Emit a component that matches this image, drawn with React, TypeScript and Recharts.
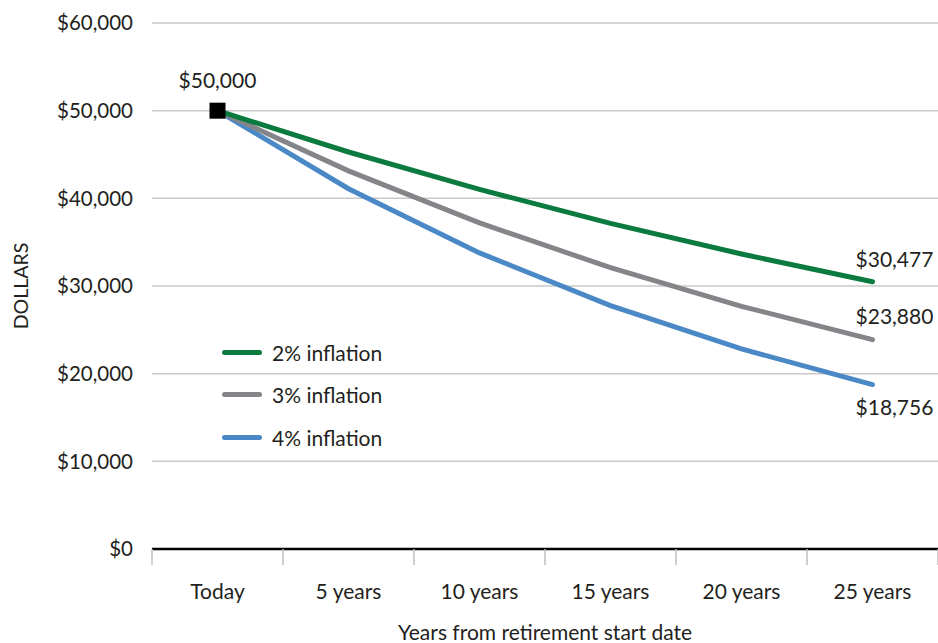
import React from 'react';
import { LineChart, Line, XAxis, YAxis, CartesianGrid, Legend, LabelList, ReferenceLine } from 'recharts';

const categories = ['Today', '5 years', '10 years', '15 years', '20 years', '25 years'];
const inflation2 = [50000, 45287, 41017, 37151, 33649, 30477];
const inflation3 = [50000, 43130, 37205, 32093, 27684, 23880];
const inflation4 = [50000, 41096, 33778, 27763, 22819, 18756];
const yTicks = [0, 10000, 20000, 30000, 40000, 50000, 60000];

const FONT = 'Lato, "Noto Sans", sans-serif';
const TEXT = '#231f20';
const FS = 21;

const series = [
    { key: 'i2', name: '2% inflation', color: '#0b7a3f', values: inflation2 },
    { key: 'i3', name: '3% inflation', color: '#848589', values: inflation3 },
    { key: 'i4', name: '4% inflation', color: '#4b88c6', values: inflation4 },
];

const chartData = categories.map((cat, i) => ({
    cat,
    i2: inflation2[i],
    i3: inflation3[i],
    i4: inflation4[i],
}));

const fmt = (v: number) => `$${v.toLocaleString('en-US')}`;
const lastIndex = categories.length - 1;

// end-of-line value label, shifted per series
const endLabel = (dy: number) => (props: any) => {
    const { x, y, value, index } = props;
    if (index !== lastIndex) return null;
    return (
        <text x={x + 22} y={y + dy} textAnchor="middle" fontSize={FS} fill={TEXT} fontFamily={FONT}>
            {fmt(value)}
        </text>
    );
};

const startLabel = (props: any) => {
    const { x, y, value, index } = props;
    if (index !== 0) return null;
    return (
        <text x={x} y={y - 23} textAnchor="middle" fontSize={FS} fill={TEXT} fontFamily={FONT}>
            {fmt(value)}
        </text>
    );
};

const squareDot = (props: any) => {
    const { cx, cy, index } = props;
    if (index !== 0) return <g key={`d${index}`} />;
    return <rect key="start" x={cx - 8} y={cy - 8} width={16} height={16} fill="#000" />;
};

// category label plus the small separator marks at band edges
const CategoryTick = (props: any) => {
    const { x, y, payload, index } = props;
    const half = payload.offset || 0;
    return (
        <g>
            <line x1={x - half} x2={x - half} y1={y} y2={y + 16} stroke="#c0c0c0" strokeWidth={1.5} />
            {index === lastIndex && (
                <line x1={x + half} x2={x + half} y1={y} y2={y + 16} stroke="#c0c0c0" strokeWidth={1.5} />
            )}
            <text x={x} y={y + 50} textAnchor="middle" fontSize={FS} fill={TEXT} fontFamily={FONT}>
                {payload.value}
            </text>
        </g>
    );
};

const LegendBox = () => (
    <div style={{ fontFamily: FONT, fontSize: FS, color: TEXT }}>
        {series.map((s) => (
            <div key={s.key} style={{ display: 'flex', alignItems: 'center', height: 42.5 }}>
                <span style={{ width: 40, height: 5, borderRadius: 3, background: s.color, marginRight: 10 }}></span>
                <span>{s.name}</span>
            </div>
        ))}
    </div>
);

const App: React.FC = () => {
    return (
        <div style={{ position: 'absolute', left: 0, top: 0, width: 938, height: 643, background: '#fff' }}>
            <LineChart width={938} height={643} data={chartData} margin={{ top: 23, right: 0, bottom: 34, left: 0 }}>
                <CartesianGrid vertical={false} stroke="#c9c9c9" strokeWidth={1.5} />
                <XAxis
                    dataKey="cat"
                    scale="band"
                    height={60}
                    tickLine={false}
                    axisLine={false}
                    tickSize={0}
                    tickMargin={0}
                    interval={0}
                    tick={<CategoryTick />}
                    label={{
                        content: (p: any) => (
                            <text
                                x={p.viewBox.x + p.viewBox.width / 2}
                                y={p.viewBox.y + 91}
                                textAnchor="middle"
                                fontSize={FS}
                                fill={TEXT}
                                fontFamily={FONT}
                            >
                                Years from retirement start date
                            </text>
                        ),
                    }}
                />
                <YAxis
                    width={152}
                    domain={[0, 60000]}
                    ticks={yTicks}
                    tickFormatter={fmt}
                    tickLine={false}
                    axisLine={false}
                    tickSize={0}
                    tickMargin={19}
                    tick={{ fontSize: 20.5, fill: TEXT, fontFamily: FONT }}
                    label={{
                        content: (p: any) => {
                            const cx = p.viewBox.x + 20;
                            const cy = p.viewBox.y + p.viewBox.height / 2;
                            return (
                                <text
                                    x={cx}
                                    y={cy}
                                    transform={`rotate(-90 ${cx} ${cy})`}
                                    textAnchor="middle"
                                    dominantBaseline="central"
                                    fontSize={19.5}
                                    fill={TEXT}
                                    fontFamily={FONT}
                                >
                                    DOLLARS
                                </text>
                            );
                        },
                    }}
                />
                <ReferenceLine y={0} stroke="#000" strokeWidth={2.5} />
                <Legend layout="horizontal" verticalAlign="middle" content={<LegendBox />} wrapperStyle={{ left: 222, top: 331, width: 'auto' }} />
                <Line dataKey="i4" name="4% inflation" stroke="#4b88c6" strokeWidth={5} strokeLinecap="round" dot={false} isAnimationActive={false}>
                    <LabelList dataKey="i4" content={endLabel(30)} />
                </Line>
                <Line dataKey="i3" name="3% inflation" stroke="#848589" strokeWidth={5} strokeLinecap="round" dot={false} isAnimationActive={false}>
                    <LabelList dataKey="i3" content={endLabel(-16)} />
                </Line>
                <Line dataKey="i2" name="2% inflation" stroke="#0b7a3f" strokeWidth={5} strokeLinecap="round" dot={squareDot} activeDot={false} isAnimationActive={false}>
                    <LabelList dataKey="i2" content={endLabel(-15)} />
                    <LabelList dataKey="i2" content={startLabel} />
                </Line>
            </LineChart>
        </div>
    );
};

export default App;
